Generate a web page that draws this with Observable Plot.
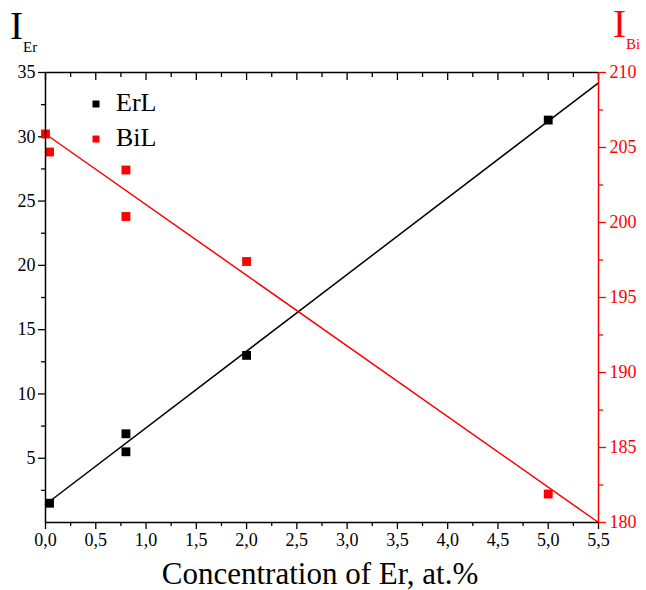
<!DOCTYPE html>
<html>
<head>
<meta charset="utf-8">
<script src="https://cdn.jsdelivr.net/npm/d3@7"></script>
<script src="https://cdn.jsdelivr.net/npm/@observablehq/plot@0.6"></script>
<style>
  html, body { margin: 0; padding: 0; background: #fff; }
  #chart svg { display: block; }
  #chart svg text { font-family: "Liberation Serif", serif; }
</style>
</head>
<body>
<div id="chart"></div>
<script>
// ---- Data ----
const erX = [0.04, 0.8, 0.8, 2.0, 5.0];
const erY = [1.5, 6.9, 5.5, 13.0, 31.3];
const biX = [0.0, 0.04, 0.8, 0.8, 2.0, 5.0];
const biY = [205.9, 204.7, 203.5, 200.4, 197.4, 181.9];
const fitX = [0, 5.5];
const fitEr = [1.4, 34.2];
const fitBi = [205.9, 180.0];

// ---- Ticks ----
const xMajor = [0, 0.5, 1, 1.5, 2, 2.5, 3, 3.5, 4, 4.5, 5, 5.5];
const xMinor = [0.25, 0.75, 1.25, 1.75, 2.25, 2.75, 3.25, 3.75, 4.25, 4.75, 5.25];
const erMajor = [5, 10, 15, 20, 25, 30, 35];
const erMinor = [2.5, 7.5, 12.5, 17.5, 22.5, 27.5, 32.5];
const biMajor = [180, 185, 190, 195, 200, 205, 210];
const biMinor = [182.5, 187.5, 192.5, 197.5, 202.5, 207.5];

// right axis (Bi) mapped onto the left (Er) scale
const erDomain = [0, 35], biDomain = [180, 210];
const bi2er = v => (v - biDomain[0]) * (erDomain[1] - erDomain[0]) / (biDomain[1] - biDomain[0]) + erDomain[0];
const er2bi = v => (v - erDomain[0]) * (biDomain[1] - biDomain[0]) / (erDomain[1] - erDomain[0]) + biDomain[0];

const erData = erX.map((x, i) => ({x, y: erY[i]}));
const biData = biX.map((x, i) => ({x, y: biY[i]}));
const fitErData = fitX.map((x, i) => ({x, y: fitEr[i]}));
const fitBiData = fitX.map((x, i) => ({x, y: fitBi[i]}));

const fmt = d => d.toFixed(1).replace(".", ",");
const RED = "#ff0000";
const FONT = "Liberation Serif";

const plot = Plot.plot({
  width: 646,
  height: 590,
  marginLeft: 45,
  marginRight: 48,
  marginTop: 72,
  marginBottom: 68,
  style: {fontFamily: FONT, fontSize: "18px", color: "#000", background: "#fff"},
  x: {domain: [0, 5.5]},
  y: {domain: erDomain},
  marks: [
    Plot.axisX(xMajor, {anchor: "bottom", tickSize: 7, tickPadding: 4, tickFormat: fmt, label: null, fontSize: 18, strokeWidth: 1.3}),
    Plot.axisX(xMinor, {anchor: "bottom", tickSize: 4, text: null, label: null, strokeWidth: 1.3}),
    Plot.axisX(xMajor, {anchor: "top", tickSize: -7, text: null, label: null, strokeWidth: 1.3}),
    Plot.axisX(xMinor, {anchor: "top", tickSize: -4, text: null, label: null, strokeWidth: 1.3}),
    Plot.axisY(erMajor, {anchor: "left", tickSize: 7, tickPadding: 3, label: null, fontSize: 18, strokeWidth: 1.3}),
    Plot.axisY(erMinor, {anchor: "left", tickSize: 4, text: null, label: null, strokeWidth: 1.3}),
    Plot.axisY(biMajor.map(bi2er), {anchor: "right", tickSize: 7, tickPadding: 4, label: null, fontSize: 18, stroke: RED, fill: RED, color: RED, tickFormat: d => Math.round(er2bi(d)), strokeWidth: 1.3}),
    Plot.axisY(biMinor.map(bi2er), {anchor: "right", tickSize: 4, text: null, label: null, stroke: RED, strokeWidth: 1.3}),
    Plot.line(fitErData, {x: "x", y: "y", stroke: "#000", strokeWidth: 1.5}),
    Plot.line(fitBiData, {x: "x", y: d => bi2er(d.y), stroke: RED, strokeWidth: 1.5}),
    Plot.dot(erData, {x: "x", y: "y", symbol: "square", r: 5, fill: "#000", stroke: "none"}),
    Plot.dot(biData, {x: "x", y: d => bi2er(d.y), symbol: "square", r: 5, fill: RED, stroke: "none"}),
    Plot.ruleY([0], {stroke: "#000", strokeWidth: 1.5}),
    Plot.ruleY([35], {stroke: "#000", strokeWidth: 1.5}),
    Plot.ruleX([0], {stroke: "#000", strokeWidth: 1.5}),
    Plot.ruleX([5.5], {stroke: RED, strokeWidth: 1.5})
  ]
});

document.getElementById("chart").appendChild(plot);

const svg = d3.select(plot);
const g = svg.append("g").attr("text-anchor", "start").attr("font-family", FONT);

function addText(x, y, size, fill, str, anchor) {
  return g.append("text").attr("x", x).attr("y", y).attr("font-size", size)
    .attr("fill", fill).attr("font-family", FONT)
    .attr("text-anchor", anchor || "start").text(str);
}

// left title I_Er
addText(10, 39, 39, "#000", "I");
addText(23, 52, 15, "#000", "Er");

// right title I_Bi
addText(613, 37, 39, RED, "I");
addText(626, 49, 15, RED, "Bi");

// x title
addText(320, 584, 31, "#000", "Concentration of Er, at.%", "middle");

// legend
const legendLabels = ["ErL", "BiL"];
const legendColors = ["#000", RED];
const legendY = [104, 139];
legendLabels.forEach((lab, i) => {
  g.append("rect").attr("x", 92.5).attr("y", legendY[i] - 3.5).attr("width", 7).attr("height", 7).attr("fill", legendColors[i]);
  addText(116, legendY[i] + 7, 26, "#000", lab);
});
</script>
</body>
</html>
